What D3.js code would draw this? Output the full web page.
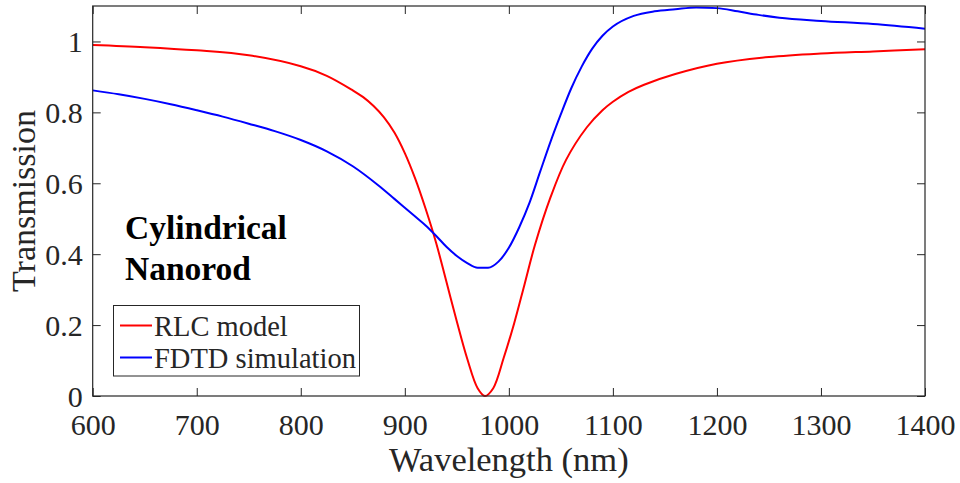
<!DOCTYPE html>
<html>
<head>
<meta charset="utf-8">
<script src="https://cdn.jsdelivr.net/npm/d3@7/dist/d3.min.js"></script>
<style>
  html, body { margin: 0; padding: 0; background: #ffffff; }
  svg { display: block; }
  text { font-family: "Liberation Serif", "Times New Roman", serif; fill: #262626; }
</style>
</head>
<body>
<svg id="chart" width="960" height="483"></svg>
<script>
// Wavelength samples (nm) and transmission values for the RLC circuit model
const rlcWavelength = [600, 650, 700, 750, 800, 825, 850, 860, 870, 880, 890, 900, 910, 920, 930, 940, 950, 960, 970, 977,
  985, 995, 1005, 1015, 1025, 1040, 1055, 1075, 1090, 1100, 1115, 1130, 1160, 1200, 1250, 1300, 1350, 1400];
const rlcTransmission = [0.990, 0.984, 0.975, 0.961, 0.930, 0.903, 0.862, 0.843, 0.818, 0.786, 0.743, 0.685, 0.613, 0.528, 0.433, 0.322, 0.210, 0.105, 0.022, 0.000,
  0.022, 0.107, 0.204, 0.314, 0.425, 0.560, 0.666, 0.758, 0.806, 0.830, 0.858, 0.878, 0.908, 0.937, 0.956, 0.966, 0.972, 0.978];

// Wavelength samples (nm) and transmission values from the FDTD simulation
const fdtdWavelength = [600, 625, 650, 675, 700, 725, 750, 775, 800, 825, 850, 875, 890, 900, 910, 920, 930, 940, 950, 960,
  970, 980, 990, 1000, 1010, 1020, 1030, 1040, 1050, 1060, 1070, 1080, 1090, 1100, 1120, 1140, 1160, 1180, 1200,
  1220, 1240, 1260, 1300, 1350, 1400];
const fdtdTransmission = [0.862, 0.851, 0.838, 0.823, 0.806, 0.788, 0.768, 0.747, 0.722, 0.690, 0.648, 0.593, 0.556, 0.531, 0.506, 0.481, 0.452, 0.421, 0.395, 0.375,
  0.362, 0.362, 0.379, 0.418, 0.476, 0.546, 0.632, 0.717, 0.795, 0.868, 0.929, 0.979, 1.016, 1.042, 1.072, 1.085, 1.091, 1.096, 1.094,
  1.085, 1.075, 1.067, 1.058, 1.049, 1.036];

const xTicks = [600, 700, 800, 900, 1000, 1100, 1200, 1300, 1400];
const yTicks = [0, 0.2, 0.4, 0.6, 0.8, 1];

const seriesNames = ["RLC model", "FDTD simulation"];
const seriesColors = ["#ff0000", "#0000ff"];

const svg = d3.select("#chart");
const plot = { left: 92.7, right: 925, top: 6, bottom: 396 };

const x = d3.scaleLinear().domain([600, 1400]).range([plot.left, plot.right]);
const y = d3.scaleLinear().domain([0, 1.1]).range([plot.bottom, plot.top]);

const axisColor = "#262626";
const tickLen = 8;

// Model curve is smooth; simulation curve follows its sampled points
const curves = [d3.curveCatmullRom.alpha(0.5), d3.curveMonotoneX];

svg.append("clipPath").attr("id", "plotClip")
  .append("rect")
  .attr("x", plot.left).attr("y", plot.top - 2)
  .attr("width", plot.right - plot.left).attr("height", plot.bottom - plot.top + 4);

const series = [
  d3.zip(rlcWavelength, rlcTransmission),
  d3.zip(fdtdWavelength, fdtdTransmission)
];

svg.append("g").attr("clip-path", "url(#plotClip)")
  .selectAll("path")
  .data(series)
  .join("path")
  .attr("d", (d, i) => d3.line().x(p => x(p[0])).y(p => y(p[1])).curve(curves[i])(d))
  .attr("fill", "none")
  .attr("stroke", (d, i) => seriesColors[i])
  .attr("stroke-width", 2)
  .attr("stroke-linejoin", "round");

// Axes: ticks point inward on all four sides
const tickFont = 30;
const bottomAxis = d3.axisBottom(x).tickValues(xTicks).tickSizeInner(-tickLen).tickSizeOuter(0)
  .tickFormat(d3.format("d"));
const topAxis = d3.axisTop(x).tickValues(xTicks).tickSizeInner(-tickLen).tickSizeOuter(0).tickFormat("");
const leftAxis = d3.axisLeft(y).tickValues(yTicks).tickSizeInner(-tickLen).tickSizeOuter(0)
  .tickFormat(d => d === 0 || d === 1 ? d3.format("d")(d) : d3.format(".1f")(d));
const rightAxis = d3.axisRight(y).tickValues(yTicks).tickSizeInner(-tickLen).tickSizeOuter(0).tickFormat("");

function styleAxis(g) {
  g.select(".domain").remove();
  g.selectAll(".tick line").attr("stroke", axisColor).attr("stroke-width", 1);
  g.selectAll(".tick text")
    .attr("font-family", "Liberation Serif, Times New Roman, serif")
    .attr("font-size", tickFont)
    .attr("fill", axisColor);
}

svg.append("g").attr("transform", `translate(0,${plot.bottom})`).call(bottomAxis).call(styleAxis)
  .selectAll(".tick text").attr("dy", null).attr("y", 39);
svg.append("g").attr("transform", `translate(0,${plot.top})`).call(topAxis).call(styleAxis);
svg.append("g").attr("transform", `translate(${plot.left},0)`).call(leftAxis).call(styleAxis)
  .selectAll(".tick text").attr("x", -10).attr("dy", "0.34em");
svg.append("g").attr("transform", `translate(${plot.right},0)`).call(rightAxis).call(styleAxis);

// Frame
svg.append("rect")
  .attr("x", plot.left).attr("y", plot.top)
  .attr("width", plot.right - plot.left).attr("height", plot.bottom - plot.top)
  .attr("fill", "none").attr("stroke", axisColor).attr("stroke-width", 1.2);

// Axis titles
svg.append("text")
  .attr("x", (plot.left + plot.right) / 2).attr("y", 471)
  .attr("text-anchor", "middle")
  .attr("font-size", 34.5)
  .text("Wavelength (nm)");

svg.append("text")
  .attr("transform", `translate(35,${(plot.top + plot.bottom) / 2}) rotate(-90)`)
  .attr("text-anchor", "middle")
  .attr("font-size", 34)
  .text("Transmission");

// Annotation
const note = svg.append("text")
  .attr("font-size", 33.5)
  .attr("font-weight", "bold")
  .style("fill", "#000");
note.append("tspan").attr("x", 125).attr("y", 239).text("Cylindrical");
note.append("tspan").attr("x", 125).attr("y", 280).text("Nanorod");

// Legend
const legend = svg.append("g");
legend.append("rect")
  .attr("x", 113.5).attr("y", 305.5).attr("width", 246).attr("height", 70.5)
  .attr("fill", "#fff").attr("stroke", axisColor).attr("stroke-width", 1);

const legendRows = [325.5, 357.5];
seriesNames.forEach((name, i) => {
  legend.append("line")
    .attr("x1", 120).attr("x2", 152)
    .attr("y1", legendRows[i]).attr("y2", legendRows[i])
    .attr("stroke", seriesColors[i]).attr("stroke-width", 2);
  legend.append("text")
    .attr("x", 154).attr("y", legendRows[i] + 10)
    .attr("font-size", 28.5)
    .text(name);
});
</script>
</body>
</html>
